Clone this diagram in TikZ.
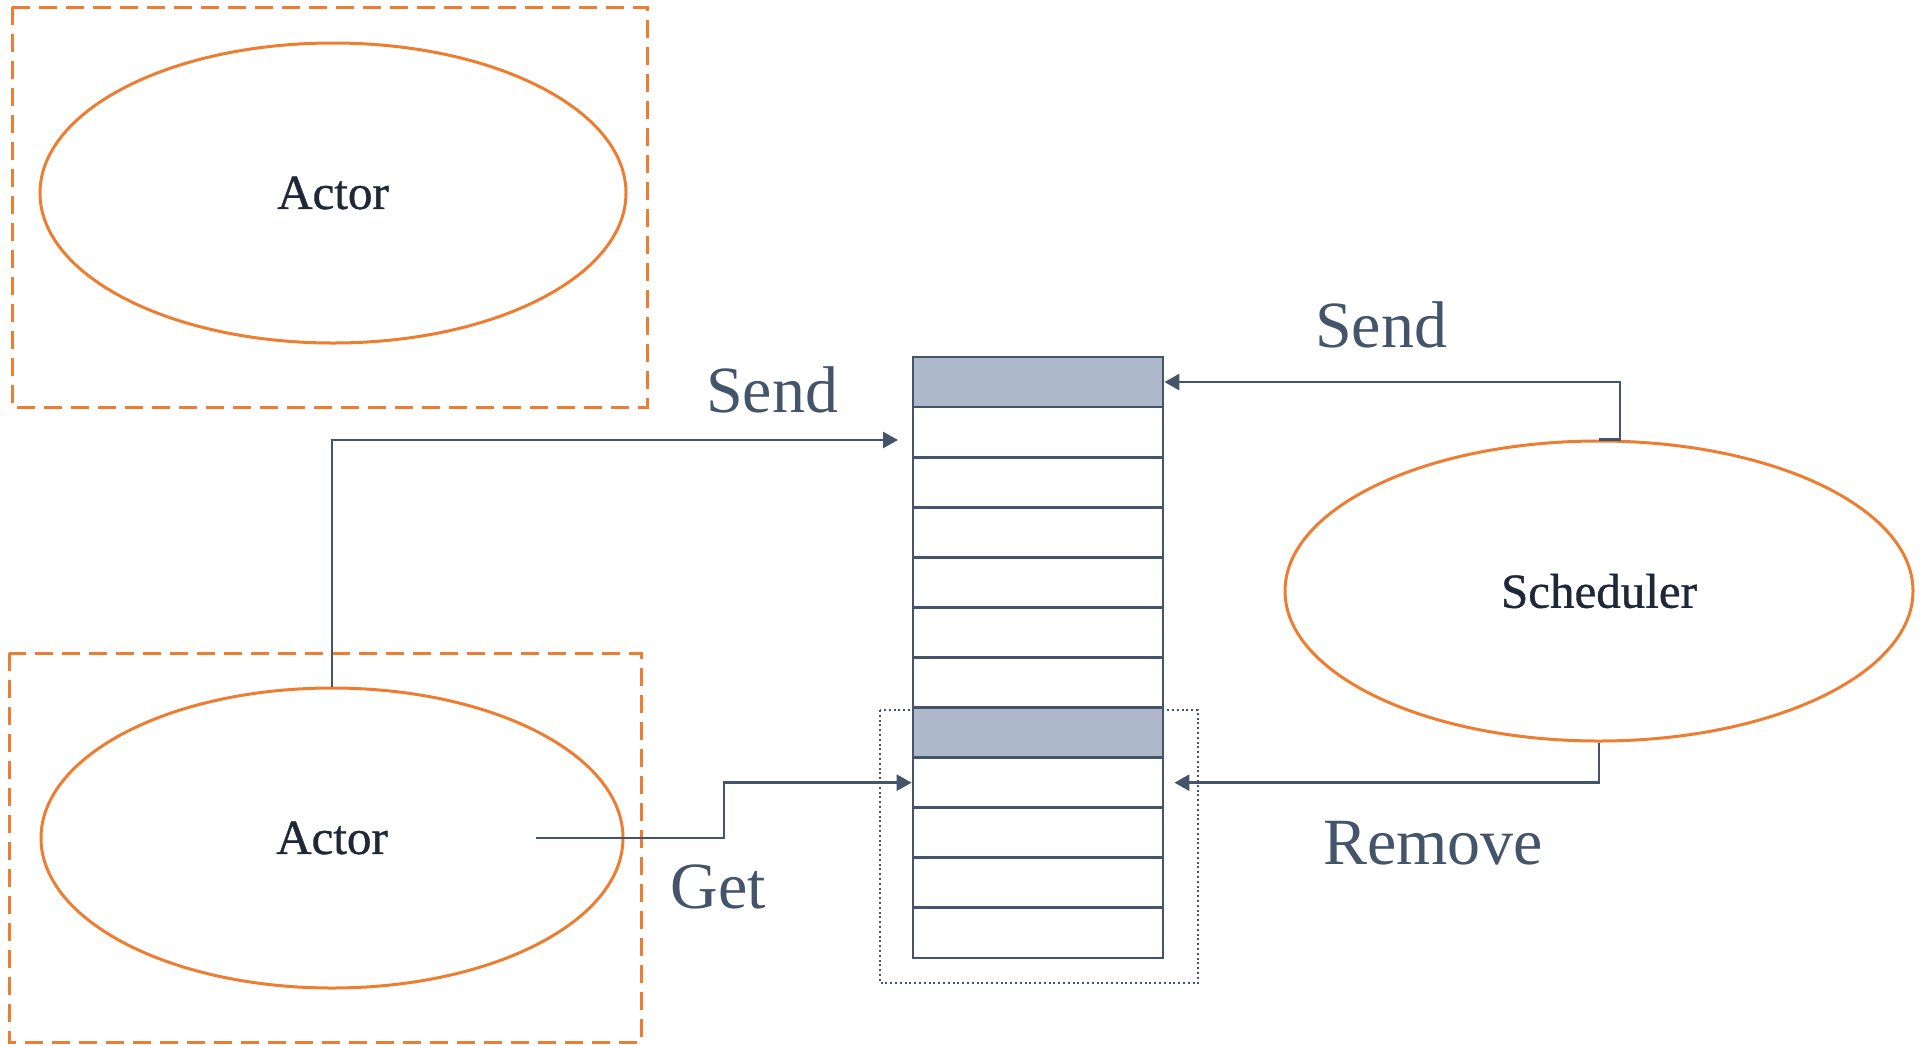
\documentclass[tikz,border=0pt]{standalone}
\usepackage{fontspec}
\setmainfont{Liberation Serif}
\newfontfamily\actorfont{Liberation Serif}[BoldFont={Liberation Serif},BoldFeatures={FakeBold=0.8}]
\usetikzlibrary{shapes.geometric,arrows.meta}
\definecolor{orng}{HTML}{ED7D31}
\definecolor{navy}{HTML}{44546A}
\definecolor{cellfill}{HTML}{ADB9CA}
\definecolor{actortext}{HTML}{1E2836}
\tikzset{
  groupbox/.style={draw=orng, line width=3pt, dash pattern=on 18pt off 9pt},
  actorshape/.style={ellipse, draw=orng, line width=3pt, inner sep=0pt,
    font=\actorfont\bfseries\fontsize{49}{56}\selectfont, text=actortext},
  cell/.style={rectangle, draw=navy, line width=2.8pt, fill=white,
    minimum width=250pt, minimum height=50.08pt, inner sep=0pt},
  shaded/.style={cell, fill=cellfill},
  conn/.style={draw=navy, line width=2.8pt},
  arr/.style={conn, -{Triangle[length=15pt,width=16pt]}},
  lbl/.style={text=navy, font=\fontsize{66}{72}\selectfont, anchor=base, inner sep=0pt},
  dotbox/.style={draw=navy, line width=2pt, dash pattern=on 2pt off 2.8pt}
}
\begin{document}
\begin{tikzpicture}[x=1pt,y=-1pt]
\useasboundingbox (0,0) rectangle (1926,1045);
% group boxes
\draw[groupbox] (12,7) rectangle (647,407);
\draw[groupbox] (9,653) rectangle (641,1042);
% actors and scheduler
\node[actorshape, minimum width=586pt, minimum height=300pt] (actor1) at (333,193) {Actor};
\node[actorshape, minimum width=582pt, minimum height=300pt] (actor2) at (332,838) {Actor};
\node[actorshape, minimum width=628pt, minimum height=300pt] (sched) at (1599,591) {Scheduler};
% dotted box
\draw[dotbox] (880,710) rectangle (1198,983);
% queue
\foreach \i in {1,...,12}{
  \pgfmathsetmacro{\yy}{357+(\i-0.5)*50.08}
  \ifnum\i=1
    \node[shaded] (q\i) at (1038,\yy) {};
  \else\ifnum\i=8
    \node[shaded] (q\i) at (1038,\yy) {};
  \else
    \node[cell] (q\i) at (1038,\yy) {};
  \fi\fi
}
% connectors
\coordinate (sendtip) at (898,440);
\draw[arr] (actor2.north) |- (sendtip);
\draw[arr] (sched.north) -- ++(21,0) |- (q1.east);
\coordinate (remtip) at ([xshift=10pt]q9.east);
\draw[arr] (sched.south) |- (remtip);
\coordinate (getstart) at (536,838);
\draw[arr] (getstart) -- ++(188,0) |- (q9.west);
% labels
\node[lbl] (lsend1) at (772,412) {Send};
\node[lbl] (lsend2) at (1381,347) {Send};
\node[lbl] (lget) at (718,908) {Get};
\node[lbl] (lremove) at (1433,864) {Remove};
\end{tikzpicture}
\end{document}
